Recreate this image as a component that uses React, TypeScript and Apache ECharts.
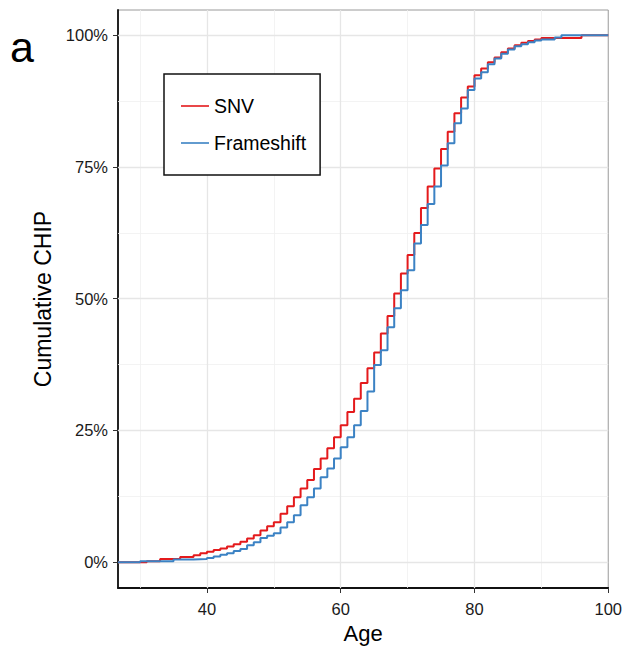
import React, { useEffect, useRef } from "react";
import * as echarts from "echarts";

// Axis extents (ggplot-style padding around the data)
const X_MIN = 26.7;
const X_MAX = 100;
const Y_MIN = -4.9;
const Y_MAX = 104.8;

// Tick positions
const X_TICKS = [40, 60, 80, 100];
const X_MINOR = [30, 50, 70, 90];
const Y_TICKS = [0, 25, 50, 75, 100];
const Y_MINOR = [12.5, 37.5, 62.5, 87.5];

// Cumulative CHIP (%) by age — SNV
const SNV_AGE = [31, 33, 36, 38, 39,
  40, 41, 42, 43, 44, 45, 46, 47, 48, 49,
  50, 51, 52, 53, 54, 55, 56, 57, 58, 59,
  60, 61, 62, 63, 64, 65, 66, 67, 68, 69,
  70, 71, 72, 73, 74, 75, 76, 77, 78, 79,
  80, 81, 82, 83, 84, 85, 86, 87, 88, 89,
  90, 96];
const SNV_CUM = [0.2, 0.6, 1.0, 1.3, 1.7,
  2.0, 2.3, 2.6, 3.0, 3.4, 3.9, 4.5, 5.1, 6.0, 6.8,
  7.6, 9.2, 10.6, 12.3, 14.0, 15.6, 17.7, 19.7, 21.6, 23.7,
  26.0, 28.5, 31.0, 34.0, 36.8, 39.8, 43.4, 46.7, 51.0, 54.8,
  58.3, 62.5, 67.2, 71.3, 74.7, 78.4, 81.7, 85.2, 88.2, 90.3,
  92.4, 93.7, 94.9, 95.8, 96.8, 97.5, 98.1, 98.6, 98.9, 99.2,
  99.5, 100];

// Cumulative CHIP (%) by age — Frameshift
const FS_AGE = [30, 35, 38,
  40, 41, 42, 43, 44, 45, 46, 47, 48, 49,
  50, 51, 52, 53, 54, 55, 56, 57, 58, 59,
  60, 61, 62, 63, 64, 65, 66, 67, 68, 69,
  70, 71, 72, 73, 74, 75, 76, 77, 78, 79,
  80, 81, 82, 83, 84, 85, 86, 87, 88, 89,
  90, 92, 93];
const FS_CUM = [0.2, 0.5, 0.6,
  0.8, 1.1, 1.4, 1.7, 2.1, 2.5, 3.2, 3.8, 4.6, 5.0,
  5.5, 6.6, 7.6, 8.9, 10.8, 12.3, 14.0, 16.1, 17.8, 19.7,
  21.8, 23.7, 26.0, 28.7, 32.4, 37.4, 40.2, 44.6, 48.2, 51.6,
  55.4, 60.5, 64.0, 68.0, 71.3, 75.3, 79.5, 83.3, 86.1, 89.6,
  91.8, 93.0, 94.5, 95.6, 96.5, 97.3, 97.9, 98.3, 98.7, 99.0,
  99.2, 99.6, 100];

const SNV_COLOR = "#E41A1C";
const FS_COLOR = "#3B82C4";
const FONT = "'Liberation Sans', Arial, sans-serif";

// Legend key: a plain horizontal stroke (the invisible moves fix the 28x14 box)
const LEGEND_KEY = "path://M0,0 M28,14 M0,6.2 L28,6.2 L28,7.8 L0,7.8 Z";

// ECDF padded to the panel edges on both sides
function ecdf(ages: number[], cum: number[]) {
  const pts: number[][] = [[X_MIN, 0]];
  ages.forEach((a, i) => pts.push([a, cum[i]]));
  pts.push([X_MAX, cum[cum.length - 1]]);
  return pts;
}

export default function App() {
  const ref = useRef<HTMLDivElement>(null);

  useEffect(() => {
    if (!ref.current) return;
    const chart = echarts.init(ref.current, undefined, { renderer: "svg" });

    const major = { color: "#e6e6e6", width: 1.3, type: "solid" };
    const minor = { color: "#f0f0f0", width: 0.8, type: "solid" };

    chart.setOption({
      animation: false,
      textStyle: { fontFamily: FONT },
      grid: {
        left: 118,
        right: 12,
        top: 10,
        bottom: 63,
        show: true,
        borderColor: "#9a9a9a",
        borderWidth: 1,
        backgroundColor: "#fff",
      },
      xAxis: {
        type: "value",
        min: X_MIN,
        max: X_MAX,
        name: "Age",
        nameLocation: "middle",
        nameGap: 34,
        nameTextStyle: { fontSize: 22, color: "#000", fontFamily: FONT },
        axisLine: { show: true, onZero: false, lineStyle: { color: "#111", width: 1.8 } },
        axisTick: { show: true, length: 5, customValues: X_TICKS, lineStyle: { color: "#333", width: 1 } },
        axisLabel: { customValues: X_TICKS, fontSize: 16.5, color: "#1a1a1a", margin: 12, fontFamily: FONT },
        splitLine: { show: false },
      },
      yAxis: {
        type: "value",
        min: Y_MIN,
        max: Y_MAX,
        name: "Cumulative CHIP",
        nameLocation: "middle",
        nameGap: 61,
        nameTextStyle: { fontSize: 23, color: "#000", fontFamily: FONT },
        axisLine: { show: true, onZero: false, lineStyle: { color: "#111", width: 1.8 } },
        axisTick: { show: true, length: 5, customValues: Y_TICKS, lineStyle: { color: "#333", width: 1 } },
        axisLabel: {
          customValues: Y_TICKS,
          fontSize: 16.5,
          color: "#1a1a1a",
          margin: 10,
          fontFamily: FONT,
          formatter: (v: number) => `${v}%`,
        },
        splitLine: { show: false },
      },
      legend: {
        data: [
          { name: "SNV", icon: LEGEND_KEY },
          { name: "Frameshift", icon: LEGEND_KEY },
        ],
        orient: "vertical",
        left: 164,
        top: 74,
        itemWidth: 28,
        itemHeight: 14,
        itemGap: 17,
        padding: [22, 14, 22, 17],
        borderColor: "#111",
        borderWidth: 1.5,
        backgroundColor: "#fff",
        textStyle: { fontSize: 19.5, color: "#000", lineHeight: 20, fontFamily: FONT },
      },
      graphic: [
        {
          type: "text",
          left: 10,
          top: 25,
          style: { text: "a", fontSize: 43, fill: "#000", fontFamily: FONT },
        },
      ],
      series: [
        {
          name: "gridlines",
          type: "line",
          data: [],
          z: 1,
          silent: true,
          markLine: {
            z: 1,
            silent: true,
            symbol: "none",
            label: { show: false },
            emphasis: { disabled: true },
            data: [
              ...X_MINOR.map((v) => ({ xAxis: v, lineStyle: minor })),
              ...Y_MINOR.map((v) => ({ yAxis: v, lineStyle: minor })),
              ...X_TICKS.filter((v) => v < X_MAX).map((v) => ({ xAxis: v, lineStyle: major })),
              ...Y_TICKS.map((v) => ({ yAxis: v, lineStyle: major })),
            ],
          },
        },
        {
          name: "SNV",
          type: "line",
          step: "end",
          symbol: "none",
          z: 10,
          color: SNV_COLOR,
          lineStyle: { color: SNV_COLOR, width: 2 },
          data: ecdf(SNV_AGE, SNV_CUM),
        },
        {
          name: "Frameshift",
          type: "line",
          step: "end",
          symbol: "none",
          z: 11,
          color: FS_COLOR,
          lineStyle: { color: FS_COLOR, width: 2 },
          data: ecdf(FS_AGE, FS_CUM),
        },
      ],
    });

    return () => chart.dispose();
  }, []);

  return (
    <div
      ref={ref}
      style={{ position: "fixed", left: 0, top: 0, width: 625, height: 651, background: "#fff" }}
    />
  );
}
